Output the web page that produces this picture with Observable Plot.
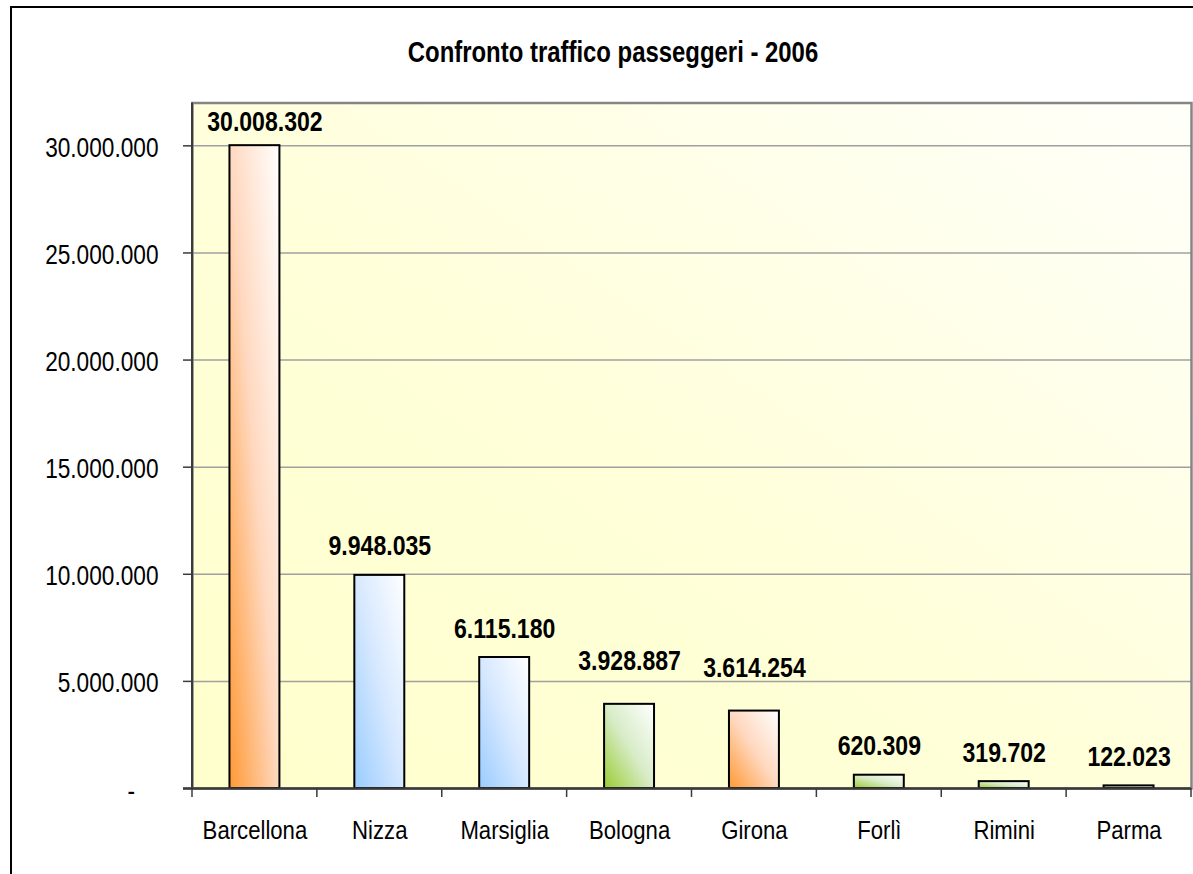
<!DOCTYPE html>
<html>
<head>
<meta charset="utf-8">
<script src="https://cdn.jsdelivr.net/npm/d3@7"></script>
<script src="https://cdn.jsdelivr.net/npm/@observablehq/plot@0.6"></script>
<style>
  html, body { margin: 0; padding: 0; background: #fff; }
  #wrap { position: relative; width: 1193px; height: 874px; overflow: hidden; }
  #outer { position: absolute; left: 10px; top: 6px; width: 1400px; height: 1000px;
           border-top: 2px solid #000; border-left: 2px solid #000; box-sizing: border-box; }
  #title { position: absolute; left: 0; top: 36px; width: 1226px; text-align: center;
           font: bold 28.8px "Liberation Sans", Arial, Helvetica, sans-serif; line-height: 32px;
           color: #000; transform: scaleX(0.83); transform-origin: 613px 0; white-space: nowrap; }
  #chart { position: absolute; left: 0; top: 0; }
</style>
</head>
<body>
<div id="wrap">
  <div id="outer"></div>
  <div id="chart"></div>
  <div id="title"></div>
</div>
<script>
// ---- data ----
const title = "Confronto traffico passeggeri - 2006";
const categories = ["Barcellona", "Nizza", "Marsiglia", "Bologna", "Girona", "Forlì", "Rimini", "Parma"];
const passengers = [30008302, 9948035, 6115180, 3928887, 3614254, 620309, 319702, 122023];
const colorGroup = ["orange", "blue", "blue", "green", "orange", "green", "green", "green"];
const yTicks = [0, 5000000, 10000000, 15000000, 20000000, 25000000, 30000000];

// ---- setup ----
const data = categories.map((c, i) => ({cat: c, value: passengers[i], group: colorGroup[i]}));
const locale = d3.formatLocale({decimal: ",", thousands: ".", grouping: [3], currency: ["", "€"]});
const fmt = locale.format(",d");
const yFmt = v => v === 0 ? "-\u00a0\u00a0\u00a0\u2009" : fmt(v);
const FONT = "'Liberation Sans', Arial, Helvetica, sans-serif";
const PAD_INNER = 0.6, PAD_OUTER = 0.3;
const NARROW = 0.83;

document.getElementById("title").textContent = title;

const gradients = {
  orange: ["#ff9933", "#ffd8bf", "#ffffff"],
  blue:   ["#99ccff", "#d6e8ff", "#ffffff"],
  green:  ["#99cc33", "#d8ecc8", "#ffffff"]
};

function axisDecor(index, scales, values, dims) {
  const ns = "http://www.w3.org/2000/svg";
  const g = document.createElementNS(ns, "g");
  const y0 = scales.y(0);
  const line = (x1, y1, x2, y2, w, c) => {
    const l = document.createElementNS(ns, "line");
    l.setAttribute("x1", x1); l.setAttribute("y1", y1);
    l.setAttribute("x2", x2); l.setAttribute("y2", y2);
    l.setAttribute("stroke", c); l.setAttribute("stroke-width", w);
    g.appendChild(l);
  };
  // left spine
  line(dims.marginLeft, dims.marginTop, dims.marginLeft, y0 + 1, 2, "#3a3a3a");
  // category boundary ticks
  const xs = categories.map(c => scales.x(c));
  const step = xs[1] - xs[0];
  xs.forEach(x => { const b = x - step * PAD_INNER / 2; line(b, y0, b, y0 + 9, 1.5, "#3a3a3a"); });
  const last = xs[xs.length - 1] - step * PAD_INNER / 2 + step;
  line(last, y0, last, y0 + 9, 1.5, "#3a3a3a");
  return g;
}

const special = ["Barcellona", "Bologna", "Girona"];
const labelOpts = {x: "cat", y: "value", text: d => fmt(d.value), lineAnchor: "bottom",
                   fontWeight: "bold", fontSize: 27.8, fill: "#000"};

const svg = Plot.plot({
  width: 1193, height: 874,
  marginLeft: 192, marginRight: 2, marginTop: 102.5, marginBottom: 86,
  style: {background: "transparent", overflow: "visible", fontFamily: FONT, color: "#000"},
  x: {type: "band", domain: categories, paddingInner: PAD_INNER, paddingOuter: PAD_OUTER, round: false, label: null},
  y: {domain: [0, 32000000], label: null},
  marks: [
    Plot.frame({fill: "url(#bgGrad)"}),
    Plot.gridY(yTicks.filter(v => v > 0), {stroke: "#a0a0a0", strokeOpacity: 1, strokeWidth: 1.5}),
    Plot.frame({stroke: "#858585", strokeWidth: 2.5}),
    ...Object.keys(gradients).map(g =>
      Plot.barY(data.filter(d => d.group === g),
        {x: "cat", y: "value", fill: `url(#grad-${g})`, stroke: "#000", strokeWidth: 2})),
    Plot.ruleY([0], {stroke: "#3a3a3a", strokeWidth: 2.5, insetLeft: -9}),
    axisDecor,
    Plot.axisY({ticks: yTicks, tickSize: 9, tickFormat: () => "", stroke: "#3a3a3a", strokeWidth: 1.5}),
    Plot.axisY({ticks: yTicks, tickSize: 0, tickPadding: 34, tickFormat: yFmt, fontSize: 27.3, dy: 2.3, fill: "#000"}),
    Plot.axisX({tickSize: 0, tickPadding: 31.3, fontSize: 26.7, fill: "#000"}),
    Plot.text(data.filter(d => !special.includes(d.cat)), {...labelOpts, dy: -20}),
    Plot.text(data.filter(d => d.cat === "Bologna" || d.cat === "Girona"), {...labelOpts, dy: -34}),
    Plot.text(data.filter(d => d.cat === "Barcellona"), {...labelOpts, dy: -15, dx: 10})
  ]
});

// gradient definitions
const ns = "http://www.w3.org/2000/svg";
const defs = document.createElementNS(ns, "defs");
function addGrad(id, stops) {
  const lg = document.createElementNS(ns, "linearGradient");
  lg.setAttribute("id", id);
  lg.setAttribute("x1", "0"); lg.setAttribute("y1", "1");
  lg.setAttribute("x2", "1"); lg.setAttribute("y2", "0");
  stops.forEach(([o, c]) => {
    const s = document.createElementNS(ns, "stop");
    s.setAttribute("offset", o); s.setAttribute("stop-color", c);
    lg.appendChild(s);
  });
  defs.appendChild(lg);
}
Object.entries(gradients).forEach(([k, [c0, c1, c2]]) => addGrad(`grad-${k}`, [[0, c0], [0.5, c1], [1, c2]]));
addGrad("bgGrad", [[0, "#ffffcc"], [0.45, "#ffffd9"], [1, "#fffffa"]]);
svg.insertBefore(defs, svg.firstChild);

// condensed text (narrow face emulation)
svg.querySelectorAll("text").forEach(t => {
  const tr = t.getAttribute("transform");
  if (tr) t.setAttribute("transform", tr + ` scale(${NARROW},1)`);
});

document.getElementById("chart").appendChild(svg);
</script>
</body>
</html>
